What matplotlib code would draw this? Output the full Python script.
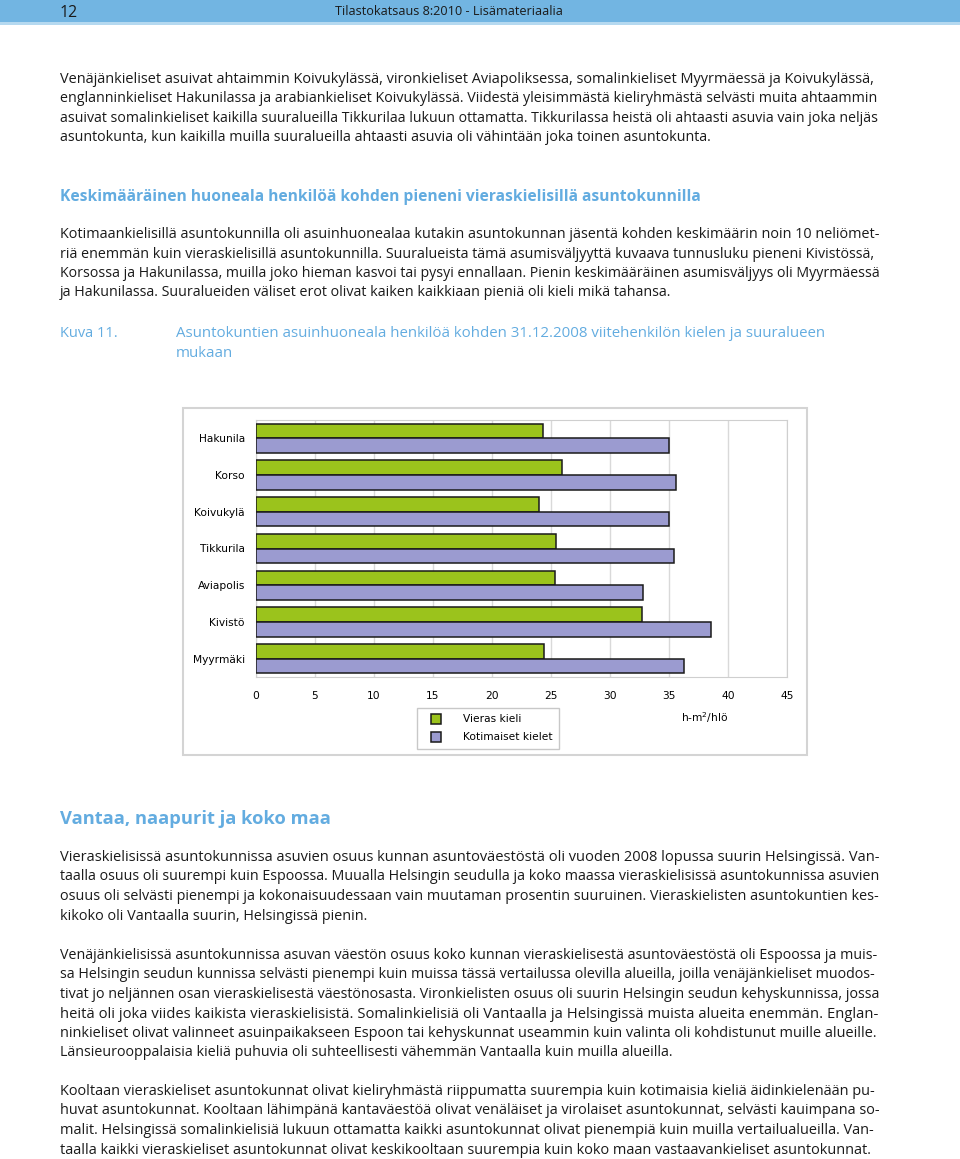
import numpy as np
import matplotlib
matplotlib.use('Agg')
import matplotlib.pyplot as plt
from matplotlib.patches import Rectangle
from matplotlib.lines import Line2D

# kaavion tiedot (Kuva 11)
alueet = ['Hakunila', 'Korso', 'Koivukylä', 'Tikkurila', 'Aviapolis', 'Kivistö', 'Myyrmäki']
vieras_kieli = [24.3, 25.9, 24.0, 25.4, 25.3, 32.7, 24.4]
kotimaiset_kielet = [35.0, 35.6, 35.0, 35.4, 32.8, 38.6, 36.3]
x_ticks = [0, 5, 10, 15, 20, 25, 30, 35, 40, 45]
sarjat = ['Vieras kieli', 'Kotimaiset kielet']

W, H = 960, 1159
fig = plt.figure(figsize=(W / 100, H / 100), dpi=100)
renderer = fig.canvas.get_renderer()

BLUE = '#63ace0'
TXT = '#1a1a1a'
BODY_FONT = ['Open Sans', 'DejaVu Sans']
X0, X1 = 60, 879


def fx(px):
    return px / W


def fy(py):
    return 1 - py / H


def width_at(s, size, **kw):
    t = fig.text(0, 0, s, fontsize=size, **kw)
    w = t.get_window_extent(renderer).width
    t.remove()
    return w


def fit_text(x, y, s, target, size=10, **kw):
    # fonttikoko niin, että teksti täyttää annetun leveyden
    kw.setdefault('family', BODY_FONT)
    size = size * target / width_at(s, size, **kw)
    return fig.text(fx(x), fy(y), s, fontsize=size, va='baseline', ha='left', **kw)


def paragraph(lines, y_first, step=19.5):
    sizes = [10 * (X1 - X0) / width_at(l, 10, family=BODY_FONT) for l in lines]
    base = float(np.median(sizes[:-1]))
    for i, line in enumerate(lines):
        if i < len(lines) - 1:
            s = min(max(sizes[i], base * 0.96), base * 1.04)
        else:
            s = base
        fig.text(fx(X0), fy(y_first + i * step), line, fontsize=s, family=BODY_FONT,
                 color=TXT, va='baseline', ha='left')


# ylätunniste
fig.patches.append(Rectangle((0, fy(22)), 1, 22 / H, transform=fig.transFigure,
                             facecolor='#72b5e2', edgecolor='none', zorder=-2))
fig.patches.append(Rectangle((0, fy(24.5)), 1, 2.5 / H, transform=fig.transFigure,
                             facecolor='#b5d9f0', edgecolor='none', zorder=-2))
fit_text(60, 17, '12', 18, size=12, color=TXT)
fit_text(335, 15, 'Tilastokatsaus 8:2010 - Lisämateriaalia', 227, size=9, color=TXT)

p1 = [
    'Venäjänkieliset asuivat ahtaimmin Koivukylässä, vironkieliset Aviapoliksessa, somalinkieliset Myyrmäessä ja Koivukylässä,',
    'englanninkieliset Hakunilassa ja arabiankieliset Koivukylässä. Viidestä yleisimmästä kieliryhmästä selvästi muita ahtaammin',
    'asuivat somalinkieliset kaikilla suuralueilla Tikkurilaa lukuun ottamatta. Tikkurilassa heistä oli ahtaasti asuvia vain joka neljäs',
    'asuntokunta, kun kaikilla muilla suuralueilla ahtaasti asuvia oli vähintään joka toinen asuntokunta.',
]
p2 = [
    'Kotimaankielisillä asuntokunnilla oli asuinhuonealaa kutakin asuntokunnan jäsentä kohden keskimäärin noin 10 neliömet-',
    'riä enemmän kuin vieraskielisillä asuntokunnilla. Suuralueista tämä asumisväljyyttä kuvaava tunnusluku pieneni Kivistössä,',
    'Korsossa ja Hakunilassa, muilla joko hieman kasvoi tai pysyi ennallaan. Pienin keskimääräinen asumisväljyys oli Myyrmäessä',
    'ja Hakunilassa. Suuralueiden väliset erot olivat kaiken kaikkiaan pieniä oli kieli mikä tahansa.',
]
p3 = [
    'Vieraskielisissä asuntokunnissa asuvien osuus kunnan asuntoväestöstä oli vuoden 2008 lopussa suurin Helsingissä. Van-',
    'taalla osuus oli suurempi kuin Espoossa. Muualla Helsingin seudulla ja koko maassa vieraskielisissä asuntokunnissa asuvien',
    'osuus oli selvästi pienempi ja kokonaisuudessaan vain muutaman prosentin suuruinen. Vieraskielisten asuntokuntien kes-',
    'kikoko oli Vantaalla suurin, Helsingissä pienin.',
]
p4 = [
    'Venäjänkielisissä asuntokunnissa asuvan väestön osuus koko kunnan vieraskielisestä asuntoväestöstä oli Espoossa ja muis-',
    'sa Helsingin seudun kunnissa selvästi pienempi kuin muissa tässä vertailussa olevilla alueilla, joilla venäjänkieliset muodos-',
    'tivat jo neljännen osan vieraskielisestä väestönosasta. Vironkielisten osuus oli suurin Helsingin seudun kehyskunnissa, jossa',
    'heitä oli joka viides kaikista vieraskielisistä. Somalinkielisiä oli Vantaalla ja Helsingissä muista alueita enemmän. Englan-',
    'ninkieliset olivat valinneet asuinpaikakseen Espoon tai kehyskunnat useammin kuin valinta oli kohdistunut muille alueille.',
    'Länsieurooppalaisia kieliä puhuvia oli suhteellisesti vähemmän Vantaalla kuin muilla alueilla.',
]
p5 = [
    'Kooltaan vieraskieliset asuntokunnat olivat kieliryhmästä riippumatta suurempia kuin kotimaisia kieliä äidinkielenään pu-',
    'huvat asuntokunnat. Kooltaan lähimpänä kantaväestöä olivat venäläiset ja virolaiset asuntokunnat, selvästi kauimpana so-',
    'malit. Helsingissä somalinkielisiä lukuun ottamatta kaikki asuntokunnat olivat pienempiä kuin muilla vertailualueilla. Van-',
    'taalla kaikki vieraskieliset asuntokunnat olivat keskikooltaan suurempia kuin koko maan vastaavankieliset asuntokunnat.',
]

paragraph(p1, 83)
fit_text(60, 201, 'Keskimääräinen huoneala henkilöä kohden pieneni vieraskielisillä asuntokunnilla',
         643, weight='bold', color=BLUE)
paragraph(p2, 238)

fit_text(60, 337, 'Kuva 11.', 58, color=BLUE)
cap = fit_text(176, 337, 'Asuntokuntien asuinhuoneala henkilöä kohden 31.12.2008 viitehenkilön kielen ja suuralueen',
               649, color=BLUE)
fig.text(fx(176), fy(357), 'mukaan', fontsize=cap.get_fontsize(), family=BODY_FONT, color=BLUE, va='baseline')

fit_text(60, 824, 'Vantaa, naapurit ja koko maa', 271, weight='bold', color=BLUE)
paragraph(p3, 861)
paragraph(p4, 959)
paragraph(p5, 1095)

# kaavion kehys
fig.patches.append(Rectangle((fx(183), fy(755)), (807 - 183) / W, (755 - 408) / H,
                             transform=fig.transFigure, facecolor='white', edgecolor='#d4d4d4',
                             lw=1.5, zorder=-1))

CH_FONT = {'family': 'DejaVu Sans', 'size': 7.7}
DARK = '#1a1a1a'

ax = fig.add_axes([fx(256), fy(677), (787 - 256) / W, (677 - 420) / H])
y = np.arange(len(alueet))
green = '#9bc31c'
purple = '#9b9bd0'
ax.barh(y - 0.2, vieras_kieli, height=0.4, color=green, edgecolor=DARK, lw=1.1, zorder=3)
ax.barh(y + 0.2, kotimaiset_kielet, height=0.4, color=purple, edgecolor=DARK, lw=1.1, zorder=3)
ax.set_xlim(0, 45)
ax.set_ylim(len(alueet) - 0.5, -0.5)
ax.set_xticks(x_ticks)
ax.set_yticks(y)
ax.set_yticklabels(alueet)
ax.grid(axis='x', color='#d9d9d9', lw=1, zorder=0)
for s in ax.spines.values():
    s.set_color('#cfcfcf')
ax.tick_params(length=0, labelcolor='#000000')
ax.tick_params(axis='x', pad=10)
ax.tick_params(axis='y', pad=8)
for lab in ax.get_xticklabels() + ax.get_yticklabels():
    lab.set_fontproperties(CH_FONT)

fig.text(fx(705), fy(722), 'h-m$^2$/hlö', color='#000000', ha='center', va='baseline',
         fontdict=CH_FONT)

handles = [Line2D([], [], ls='none', marker='s', ms=7, mfc=green, mec=DARK, mew=1.1),
           Line2D([], [], ls='none', marker='s', ms=7, mfc=purple, mec=DARK, mew=1.1)]
leg = fig.legend(handles, sarjat, loc='upper left', bbox_to_anchor=(fx(417), fy(708)),
                 fancybox=False, edgecolor='#c8c8c8', framealpha=1, handlelength=2.3,
                 handletextpad=1.4, borderpad=0.6, labelspacing=0.75,
                 prop=CH_FONT, borderaxespad=0)
leg.get_frame().set_linewidth(1)
for t in leg.get_texts():
    t.set_color('#000000')

fig.savefig('out.png', dpi=100, facecolor='white')
